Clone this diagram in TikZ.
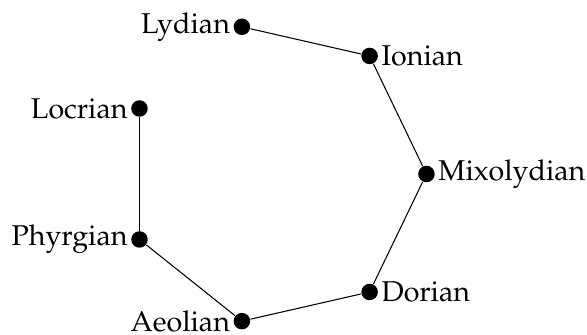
\documentclass[tikz,border=0pt]{standalone}
\usepackage[T1]{fontenc}
\usepackage{mathpazo}
\usetikzlibrary{positioning}

\begin{document}
\begin{tikzpicture}
    \tikzstyle{mode} = [circle,fill=black,draw=none,inner sep=2.2pt]
    \tikzstyle{every label} = [inner sep=1pt,font=\fontsize{10.8}{13}\selectfont]
    \useasboundingbox (-3.65,-2.133) rectangle (4.127,2.305);

    \node[mode,label=right:Mixolydian] (mixo)  at (0:2)       {};
    \node[mode,label=right:Ionian]     (ion)   at (51.43:2)   {};
    \node[mode,label=left:Lydian]      (lyd)   at (102.86:2)  {};
    \node[mode,label=left:Locrian]     (loc)   at (154.29:2)  {};
    \node[mode,label=left:Phyrgian]    (phr)   at (205.71:2)  {};
    \node[mode,label=left:Aeolian]     (aeo)   at (257.14:2)  {};
    \node[mode,label=right:Dorian]     (dor)   at (308.57:2)  {};

    \path (lyd)     edge              (ion)
          (ion)     edge              (mixo)
          (mixo)    edge              (dor)
          (dor)     edge              (aeo)
          (aeo)     edge              (phr)
          (phr)     edge              (loc);

  \end{tikzpicture}
\end{document}
